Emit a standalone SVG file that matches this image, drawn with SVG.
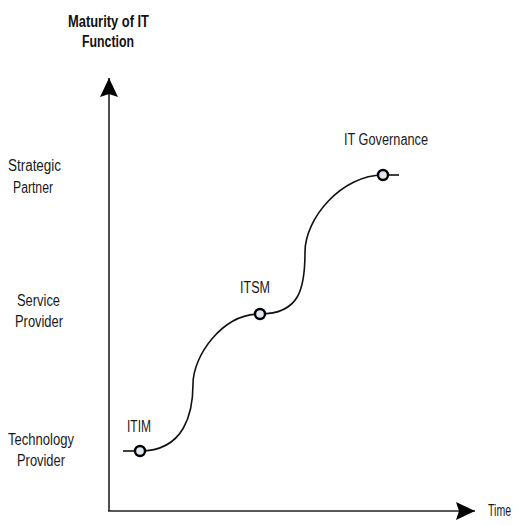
<svg xmlns="http://www.w3.org/2000/svg" width="518" height="525" viewBox="0 0 518 525">
  <style>
    .lbl { font-family: "Liberation Sans", Arial, sans-serif; font-size: 16px; fill: #1a1a1a; }
    .title { font-family: "Liberation Sans", Arial, sans-serif; font-size: 16px; font-weight: bold; fill: #111; }
    .axis { stroke: #222; stroke-width: 1.6; fill: none; }
    .curve { stroke: #111; stroke-width: 1.6; fill: none; }
    .stage { fill: #dfe7f3; stroke: #000; stroke-width: 2.4; }
  </style>
  <defs>
    <marker id="arrow" markerUnits="userSpaceOnUse" markerWidth="20" markerHeight="18" refX="19" refY="9" orient="auto" viewBox="0 0 20 18">
      <path d="M0,0 L19,9 L0,18 L3,9 Z" fill="#000"/>
    </marker>
  </defs>

  <!-- axis titles -->
  <g id="y-axis-title">
    <text class="title" x="68" y="27" textLength="81" lengthAdjust="spacingAndGlyphs">Maturity of IT</text>
    <text class="title" x="82" y="47" textLength="52" lengthAdjust="spacingAndGlyphs">Function</text>
  </g>
  <g id="x-axis-title">
    <text class="lbl" x="511" y="516" text-anchor="end" font-size="15" textLength="23" lengthAdjust="spacingAndGlyphs">Time</text>
  </g>

  <!-- maturity levels -->
  <g id="level-strategic-partner">
    <text class="lbl" x="8" y="171" textLength="53" lengthAdjust="spacingAndGlyphs">Strategic</text>
    <text class="lbl" x="13" y="193" textLength="40" lengthAdjust="spacingAndGlyphs">Partner</text>
  </g>
  <g id="level-service-provider">
    <text class="lbl" x="17" y="306" textLength="43" lengthAdjust="spacingAndGlyphs">Service</text>
    <text class="lbl" x="15" y="327" textLength="48" lengthAdjust="spacingAndGlyphs">Provider</text>
  </g>
  <g id="level-technology-provider">
    <text class="lbl" x="8" y="445" textLength="66" lengthAdjust="spacingAndGlyphs">Technology</text>
    <text class="lbl" x="17" y="466" textLength="48" lengthAdjust="spacingAndGlyphs">Provider</text>
  </g>

  <!-- axes and maturity curve -->
  <g id="connectors">
    <line class="axis" x1="109" y1="511" x2="109" y2="78" marker-end="url(#arrow)"/>
    <line class="axis" x1="108" y1="511" x2="475" y2="511" marker-end="url(#arrow)"/>
    <path class="curve" d="M123,451 H140"/>
    <path class="curve" d="M140,451 C185,451 193,412 193,384 C193,356 222,314 260,314 C300,314 305,288 305,252 C305,218 342,175 383,175"/>
    <path class="curve" d="M383,175 H399"/>
  </g>

  <!-- stages on the curve -->
  <g id="stage-itim">
    <circle class="stage" cx="140" cy="451" r="5"/>
    <text class="lbl" x="127" y="432" textLength="24" lengthAdjust="spacingAndGlyphs">ITIM</text>
  </g>
  <g id="stage-itsm">
    <circle class="stage" cx="260" cy="314" r="5"/>
    <text class="lbl" x="240" y="293" textLength="30" lengthAdjust="spacingAndGlyphs">ITSM</text>
  </g>
  <g id="stage-it-governance">
    <circle class="stage" cx="383" cy="175" r="5"/>
    <text class="lbl" x="344" y="145" textLength="84" lengthAdjust="spacingAndGlyphs">IT Governance</text>
  </g>
</svg>
